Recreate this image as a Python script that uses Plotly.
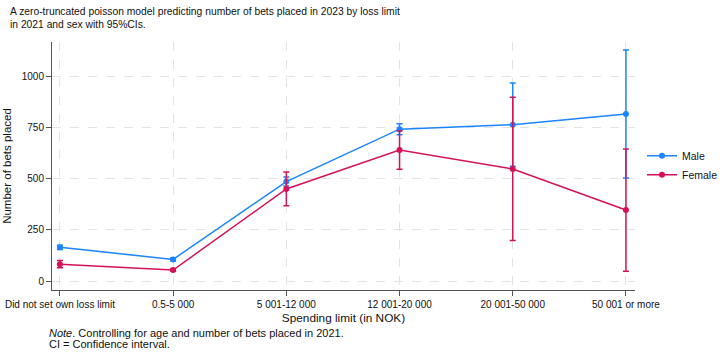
import plotly.graph_objects as go

categories = ["Did not set own loss limit", "0.5-5 000", "5 001-12 000",
              "12 001-20 000", "20 001-50 000", "50 001 or more"]
male = [165, 106, 487, 744, 766, 818]
male_lo = [155, 98, 465, 717, 562, 505]
male_hi = [175, 114, 510, 771, 970, 1132]
female = [82, 54, 451, 642, 549, 348]
female_lo = [65, 48, 369, 548, 198, 48]
female_hi = [100, 60, 534, 736, 900, 647]

BLUE = "#1A85FF"
RED = "#D41159"
FONT = "Liberation Sans, Arial, sans-serif"

x = list(range(len(categories)))

fig = go.Figure()
for name, vals, lo, hi, col in [("Male", male, male_lo, male_hi, BLUE),
                                 ("Female", female, female_lo, female_hi, RED)]:
    fig.add_trace(go.Scatter(
        x=x, y=vals, name=name, mode="lines+markers",
        line=dict(color=col, width=1.5),
        marker=dict(color=col, size=6),
        error_y=dict(type="data", symmetric=False,
                     array=[h - v for h, v in zip(hi, vals)],
                     arrayminus=[v - l for v, l in zip(vals, lo)],
                     color=col, thickness=1.5, width=3),
    ))

fig.update_layout(
    width=720, height=353,
    margin=dict(l=52, r=85, t=42, b=63, autoexpand=False),
    paper_bgcolor="white", plot_bgcolor="white",
    font=dict(family=FONT, color="#111", size=10),
    showlegend=True,
    legend=dict(x=1.012, xanchor="left", y=0.6, yanchor="top",
                bgcolor="rgba(0,0,0,0)", font=dict(size=10.5),
                itemwidth=30, tracegroupgap=0),
    xaxis=dict(
        tickmode="array", tickvals=x, ticktext=categories,
        range=[-0.07, 5.08],
        showline=True, linecolor="#555", linewidth=1,
        ticks="outside", ticklen=5, tickcolor="#555",
        showgrid=True, gridcolor="#e3e3e3", griddash="dash", gridwidth=1,
        zeroline=False,
        tickfont=dict(size=10),
        title=dict(text="Spending limit (in NOK)", font=dict(size=11.8), standoff=4),
    ),
    yaxis=dict(
        range=[-44, 1171],
        tickvals=[0, 250, 500, 750, 1000],
        showline=True, linecolor="#555", linewidth=1,
        ticks="outside", ticklen=5, tickcolor="#555",
        showgrid=True, gridcolor="#e3e3e3", griddash="dash", gridwidth=1,
        zeroline=False,
        tickfont=dict(size=10),
        title=dict(text="Number of bets placed", font=dict(size=11.5), standoff=7),
    ),
    annotations=[
        dict(text="A zero-truncated poisson model predicting number of bets placed in 2023 by loss limit<br>in 2021 and sex with 95%CIs.",
             xref="paper", yref="paper", x=-0.075, y=1.155,
             xanchor="left", yanchor="top", align="left", showarrow=False,
             font=dict(size=10.3, family=FONT, color="#111")),
        dict(text="<i>Note</i>. Controlling for age and number of bets placed in 2021.",
             xref="paper", yref="paper", x=(47 - 52) / 583, y=(290 - 333) / 248,
             xanchor="left", yanchor="middle", align="left", showarrow=False,
             font=dict(size=11, family=FONT, color="#111")),
        dict(text="CI = Confidence interval.",
             xref="paper", yref="paper", x=(47 - 52) / 583, y=(290 - 344) / 248,
             xanchor="left", yanchor="middle", align="left", showarrow=False,
             font=dict(size=11, family=FONT, color="#111")),
    ],
)

fig.write_html("out.html")
